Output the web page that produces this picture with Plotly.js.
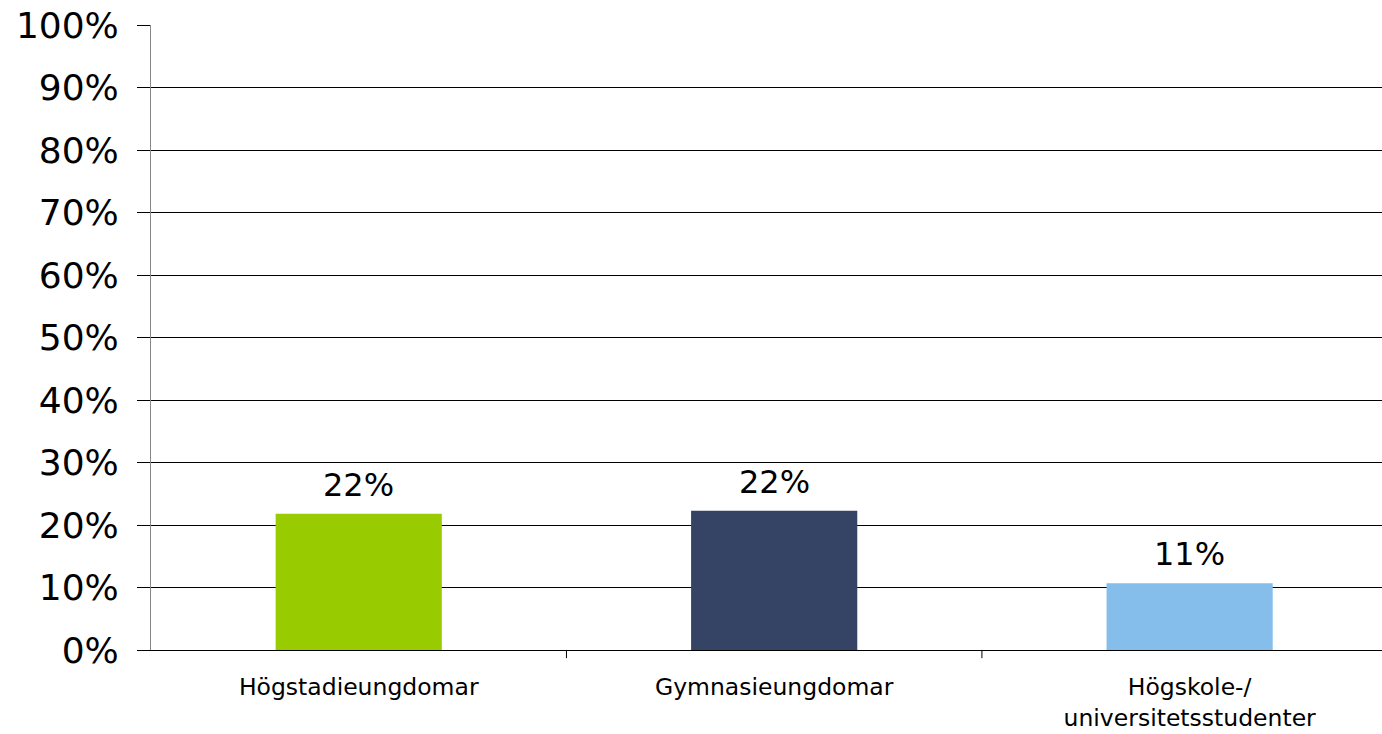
<!DOCTYPE html>
<html>
<head>
<meta charset="utf-8">
<script src="https://cdn.plot.ly/plotly-3.0.1.min.js"></script>
<style>html,body{margin:0;padding:0;background:#fff;}#chart{width:1382px;height:734px;}</style>
</head>
<body>
<div id="chart"></div>
<script>
const categories = ["Högstadieungdomar", "Gymnasieungdomar", "Högskole-/<br>universitetsstudenter"];
const values = [21.8, 22.3, 10.7];
const valueLabels = ["22%", "22%", "11%"];
const barColors = ["#99CC00", "#354364", "#85BEEA"];
const yTickVals = [0,10,20,30,40,50,60,70,80,90,100];
const yTickText = yTickVals.map(v => v + "%");

const trace = {
  type: "bar",
  x: [0,1,2],
  y: values,
  width: 0.4,
  marker: {color: barColors},
  hoverinfo: "skip"
};

const layout = {
  width: 1382, height: 734,
  margin: {l: 151, r: 0, t: 25, b: 84},
  paper_bgcolor: "#fff", plot_bgcolor: "rgba(0,0,0,0)",
  showlegend: false,
  xaxis: {
    type: "linear",
    range: [-0.5, 2.463],
    tickvals: [0,1,2],
    ticktext: categories,
    ticks: "",
    showgrid: false,
    zeroline: false,
    showline: true, linecolor: "#000", linewidth: 1,
    tickfont: {family: "DejaVu Sans", size: 23.5, color: "#000"},
    ticklabelstandoff: 16,
    fixedrange: true
  },
  yaxis: {
    range: [0, 100],
    tickvals: yTickVals,
    ticktext: yTickText,
    ticks: "outside", ticklen: 13, tickcolor: "#000", tickwidth: 1,
    showgrid: true, gridcolor: "#000", gridwidth: 1,
    zeroline: false,
    showline: true, linecolor: "#888", linewidth: 1,
    tickfont: {family: "DejaVu Sans", size: 36, color: "#000"},
    ticklabelstandoff: 11,
    fixedrange: true
  },
  annotations: values.map((v, i) => ({
    x: i, y: v, xref: "x", yref: "y",
    text: valueLabels[i], showarrow: false,
    yanchor: "bottom", yshift: 8,
    font: {family: "DejaVu Sans", size: 32, color: "#000"}
  })),
  shapes: [0.5, 1.5].map(b => ({
    type: "line", xref: "x", yref: "paper",
    x0: b, x1: b, y0: 0, y1: -0.013,
    line: {color: "#000", width: 1}
  })),
  font: {family: "DejaVu Sans"}
};

Plotly.newPlot("chart", [trace], layout, {displayModeBar: false, staticPlot: true});
</script>
</body>
</html>
